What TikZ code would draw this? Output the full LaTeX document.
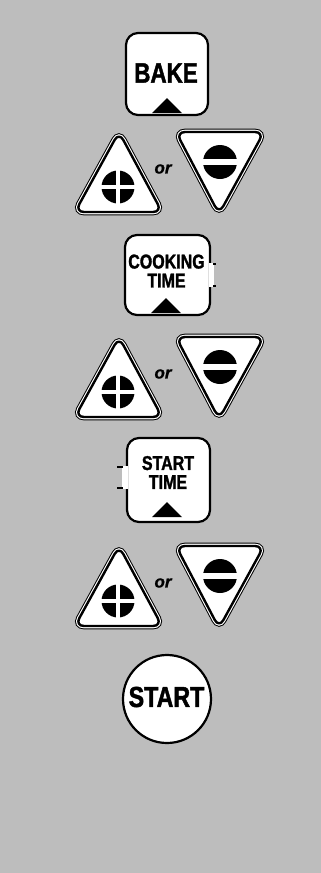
\documentclass[tikz,border=0pt]{standalone}
\usepackage{fontspec}
\newfontfamily\keyfont[FakeStretch=0.8,FakeBold=1.5]{Liberation Sans Bold}
\newfontfamily\orfont[FakeBold=1]{Liberation Sans Bold Italic}
\usepackage{tikz}
\usetikzlibrary{positioning}
\definecolor{panel}{gray}{0.74}

\begin{document}
\begin{tikzpicture}[x=1pt,y=-1pt,
  keybox/.style={draw, line width=2.2, fill=white, rounded corners=12, inner sep=0},
  keytext/.style={font=\keyfont, align=center, inner sep=0},
  sign/.style={preaction={draw, line width=6.6}, preaction={draw=white, line width=4.6},
    fill=white, draw, line width=2.4, rounded corners=9, line join=round},
  disc/.style={circle, fill=black, minimum size=33, inner sep=0}]
  \fill[panel] (0,0) rectangle (321,873);
  \useasboundingbox (0,0) rectangle (321,873);
  % keys
  \node[keybox, minimum width=82, minimum height=82] (bake) at (167,74) {};
  \node[keytext, font=\keyfont\fontsize{28}{28}\selectfont] (bakelabel) at (166,73) {BAKE};
  \node[keybox, minimum width=85, minimum height=80] (cook) at (167.5,275) {};
  \fill[white, draw, line width=1.3] (209,264) -- (213,264) -- (213,286) -- (209,286);
  \draw[line width=1.1] (213,264) -- (216,264) (213,286) -- (216,286);
  \node[keytext, font=\keyfont\fontsize{20}{19}\selectfont] (cooklabel) at (166.5,271) {COOKING\\TIME};
  \node[keybox, minimum width=83, minimum height=84] (stime) at (168.5,480) {};
  \fill[white, draw, line width=1.3] (128,467) -- (123,467) -- (123,488) -- (128,488);
  \draw[line width=1.1] (123,467) -- (117,467) (123,488) -- (117,488);
  \node[keytext, font=\keyfont\fontsize{20}{19}\selectfont] (stimelabel) at (168,472.5) {START\\TIME};
  \foreach \x/\y in {167/98, 166/298, 167/502} { \fill (\x,\y) -- ++(15,15) -- ++(-30,0) -- cycle; }
  % up / down pairs
  \foreach \y in {132,337,546} {
    \draw[sign] (119,\y) -- (162,\y+80) -- (75,\y+80) -- cycle;
    \draw[sign] (176,\y) -- (264,\y) -- (219,\y+82) -- cycle;
    \node[disc] (plus\y) at (118,\y+55) {};
    \draw[white, line width=3.2] (plus\y.north) -- (plus\y.south) (plus\y.west) -- (plus\y.east);
    \node[disc, minimum size=34] (minus\y) at (220,\y+30) {};
    \draw[white, line width=5.5] (minus\y.west) -- (minus\y.east);
    \node[font=\orfont\fontsize{17}{17}\selectfont, inner sep=0] (or\y) at (163,\y+37) {or};
  }
  % start
  \node[circle, draw, line width=2.2, fill=white, minimum size=88, inner sep=0] (start) at (167,699) {};
  \node[keytext, font=\keyfont\fontsize{29}{29}\selectfont] (startlabel) at (166.5,697) {START};
\end{tikzpicture}
\end{document}
